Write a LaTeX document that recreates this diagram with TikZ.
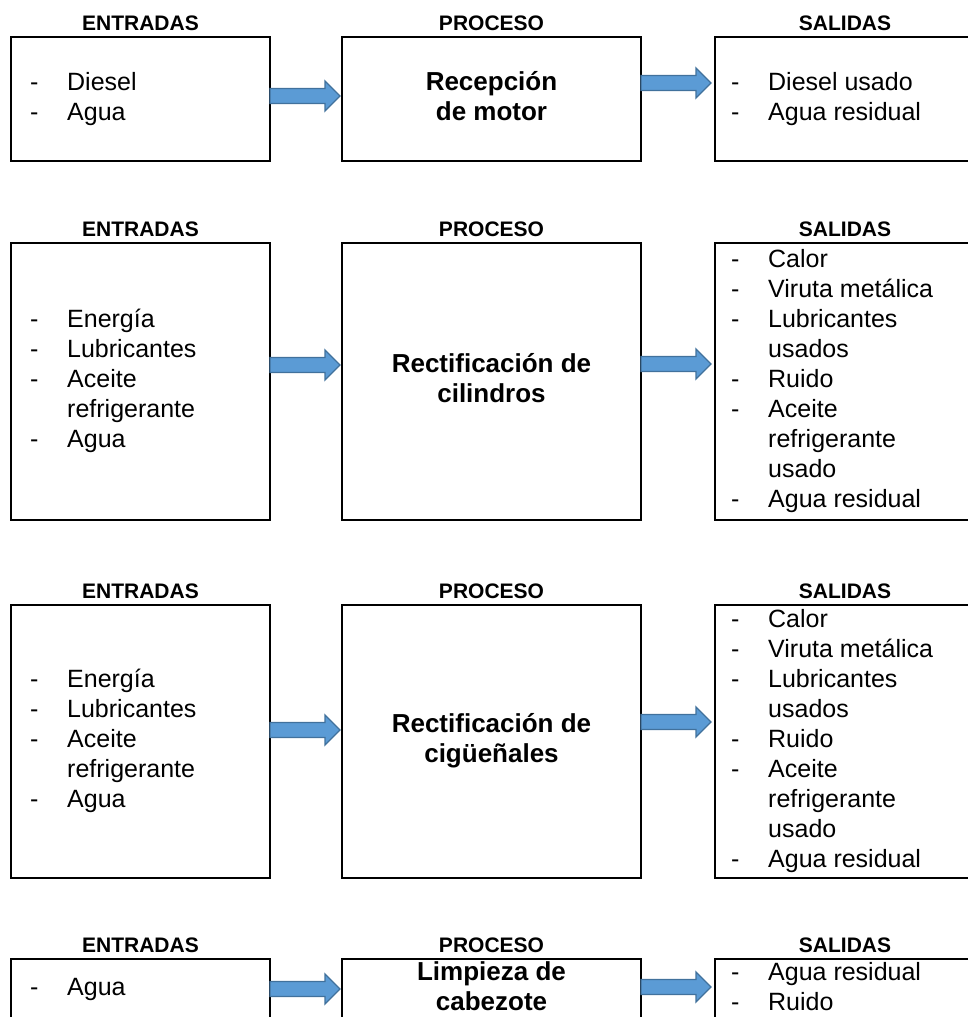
\documentclass[tikz,border=0pt]{standalone}
\usepackage{fontspec}
\setmainfont{Liberation Sans}
\definecolor{arrfill}{HTML}{5B9BD5}
\definecolor{arrline}{HTML}{41719C}
\newcommand\lstfont{\fontsize{25}{30}\selectfont}
\newcommand\ttlfont{\fontsize{26}{30}\selectfont\bfseries}
\newcommand\hdrfont{\fontsize{21}{24}\selectfont\bfseries}
\newcommand\blockarr[3]{% start x, tip x, y
  \draw[barrow] (#1,#3-7.5) -- (#2-15,#3-7.5) -- (#2-15,#3-15) -- (#2,#3)
    -- (#2-15,#3+15) -- (#2-15,#3+7.5) -- (#1,#3+7.5) -- cycle;}
\newcommand\lstL[1]{\lstfont\begin{tabular}{@{}p{37pt}@{}l@{}}#1\end{tabular}}
\newcommand\ttl[1]{\ttlfont\begin{tabular}{@{}c@{}}#1\end{tabular}}
\tikzset{
  box/.style={draw=black, line width=2pt, inner sep=0pt},
  inbox/.style={box, minimum width=259pt},
  procbox/.style={box, minimum width=299pt},
  outbox/.style={box, minimum width=295pt},
  hdr/.style={font=\hdrfont, inner sep=0pt},
  lst/.style={anchor=west, inner sep=0pt},
  ttlnode/.style={inner sep=0pt},
  barrow/.style={fill=arrfill, draw=arrline, line width=1.3pt, line join=miter}
}
\begin{document}
\begin{tikzpicture}[x=1pt, y=-1pt]
\useasboundingbox (0,0) rectangle (968,1017);
\clip (0,0) rectangle (968,1017);
% ---------- Row 1 ----------
\node[hdr] (h1a) at (140.5,23) {ENTRADAS};
\node[hdr] (h1b) at (491.5,23) {PROCESO};
\node[hdr] (h1c) at (845,23) {SALIDAS};
\node[inbox, minimum height=124pt] (in1) at (140.5,99) {};
\node[procbox, minimum height=124pt] (pr1) at (491.5,99) {};
\node[outbox, minimum height=124pt] (out1) at (862.5,99) {};
\node[lst] (in1t) at (30,99) {\lstL{-&Diesel\\-&Agua}};
\node[ttlnode] (pr1t) at (491.5,99) {\ttl{Recepción\\de motor}};
\node[lst] (out1t) at (731,99) {\lstL{-&Diesel usado\\-&Agua residual}};
\blockarr{270}{340}{96}
\blockarr{641}{711}{83}
% ---------- Row 2 ----------
\node[hdr] (h2a) at (140.5,229) {ENTRADAS};
\node[hdr] (h2b) at (491.5,229) {PROCESO};
\node[hdr] (h2c) at (845,229) {SALIDAS};
\node[inbox, minimum height=277pt] (in2) at (140.5,381.5) {};
\node[procbox, minimum height=277pt] (pr2) at (491.5,381.5) {};
\node[outbox, minimum height=277pt] (out2) at (862.5,381.5) {};
\node[lst] (in2t) at (30,381.5) {\lstL{-&Energía\\-&Lubricantes\\-&Aceite\\&refrigerante\\-&Agua}};
\node[ttlnode] (pr2t) at (491.5,381.5) {\ttl{Rectificación de\\cilindros}};
\node[lst] (out2t) at (731,381.5) {\lstL{-&Calor\\-&Viruta metálica\\-&Lubricantes\\&usados\\-&Ruido\\-&Aceite\\&refrigerante\\&usado\\-&Agua residual}};
\blockarr{270}{340}{365}
\blockarr{641}{711}{364}
% ---------- Row 3 ----------
\node[hdr] (h3a) at (140.5,591) {ENTRADAS};
\node[hdr] (h3b) at (491.5,591) {PROCESO};
\node[hdr] (h3c) at (845,591) {SALIDAS};
\node[inbox, minimum height=273pt] (in3) at (140.5,741.5) {};
\node[procbox, minimum height=273pt] (pr3) at (491.5,741.5) {};
\node[outbox, minimum height=273pt] (out3) at (862.5,741.5) {};
\node[lst] (in3t) at (30,741.5) {\lstL{-&Energía\\-&Lubricantes\\-&Aceite\\&refrigerante\\-&Agua}};
\node[ttlnode] (pr3t) at (491.5,741.5) {\ttl{Rectificación de\\cigüeñales}};
\node[lst] (out3t) at (731,741.5) {\lstL{-&Calor\\-&Viruta metálica\\-&Lubricantes\\&usados\\-&Ruido\\-&Aceite\\&refrigerante\\&usado\\-&Agua residual}};
\blockarr{270}{340}{730}
\blockarr{641}{711}{722}
% ---------- Row 4 ----------
\node[hdr] (h4a) at (140.5,945) {ENTRADAS};
\node[hdr] (h4b) at (491.5,945) {PROCESO};
\node[hdr] (h4c) at (845,945) {SALIDAS};
\node[inbox, minimum height=70pt] (in4) at (140.5,994) {};
\node[procbox, minimum height=70pt] (pr4) at (491.5,994) {};
\node[outbox, minimum height=70pt] (out4) at (862.5,994) {};
\node[lst] (in4t) at (30,989) {\lstL{-&Agua}};
\node[ttlnode] (pr4t) at (491.5,989) {\ttl{Limpieza de\\cabezote}};
\node[lst] (out4t) at (731,989) {\lstL{-&Agua residual\\-&Ruido}};
\blockarr{270}{340}{989}
\blockarr{641}{711}{987}
\end{tikzpicture}
\end{document}
